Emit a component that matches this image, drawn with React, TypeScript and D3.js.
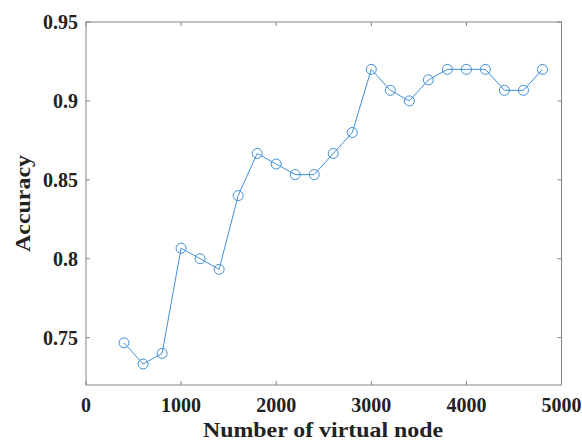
import React from "react";
import * as d3 from "d3";

const xValues = [400, 600, 800, 1000, 1200, 1400, 1600, 1800, 2000, 2200, 2400, 2600, 2800, 3000, 3200, 3400, 3600, 3800, 4000, 4200, 4400, 4600, 4800];
const accuracy = [0.7467, 0.7333, 0.74, 0.8067, 0.8, 0.7933, 0.84, 0.8667, 0.86, 0.8533, 0.8533, 0.8667, 0.88, 0.92, 0.9067, 0.9, 0.9133, 0.92, 0.92, 0.92, 0.9067, 0.9067, 0.92];
const xTicks = [0, 1000, 2000, 3000, 4000, 5000];
const yTicks = [0.75, 0.8, 0.85, 0.9, 0.95];

const W = 582, H = 441;
const L = 86, R = 561.5, T = 22, B = 385;
const font = "'Liberation Serif', 'Times New Roman', serif";

export default function App() {
  const x = d3.scaleLinear().domain([0, 5000]).range([L, R]);
  const y = d3.scaleLinear().domain([0.72, 0.95]).range([B, T]);
  const line = d3.line<number>().x((_, i) => x(xValues[i])).y((d) => y(d));
  const axisColor = "#858585";
  const lineColor = "#3f8fd8";
  return (
    <svg width={W} height={H} style={{ position: "absolute", left: 0, top: 0 }}>
      <rect x={0} y={0} width={W} height={H} fill="#fff" />
      <rect x={L} y={T} width={R - L} height={B - T} fill="none" stroke={axisColor} strokeWidth={1} />
      {xTicks.map((t) => (
        <g key={"x" + t}>
          <line x1={x(t)} x2={x(t)} y1={B} y2={B - 4} stroke={axisColor} />
          <line x1={x(t)} x2={x(t)} y1={T} y2={T + 4} stroke={axisColor} />
          <text x={x(t)} y={412} textAnchor="middle" fontFamily={font} fontWeight="bold" fontSize={20} fill="#222">{t}</text>
        </g>
      ))}
      {yTicks.map((t) => (
        <g key={"y" + t}>
          <line x1={L} x2={L + 4} y1={y(t)} y2={y(t)} stroke={axisColor} />
          <line x1={R} x2={R - 4} y1={y(t)} y2={y(t)} stroke={axisColor} />
          <text x={78} y={y(t) + 7} textAnchor="end" fontFamily={font} fontWeight="bold" fontSize={20} fill="#222">{String(t)}</text>
        </g>
      ))}
      <path d={line(accuracy) || ""} fill="none" stroke={lineColor} strokeWidth={1} />
      {accuracy.map((v, i) => (
        <circle key={i} cx={x(xValues[i])} cy={y(v)} r={5} fill="none" stroke={lineColor} strokeWidth={1} />
      ))}
      <text x={323} y={437} textAnchor="middle" fontFamily={font} fontWeight="bold" fontSize={22} textLength={240} lengthAdjust="spacingAndGlyphs" fill="#222">Number of virtual node</text>
      <text transform={`translate(30, 203.5) rotate(-90)`} textAnchor="middle" fontFamily={font} fontWeight="bold" fontSize={22} textLength={97} lengthAdjust="spacingAndGlyphs" fill="#222">Accuracy</text>
    </svg>
  );
}
